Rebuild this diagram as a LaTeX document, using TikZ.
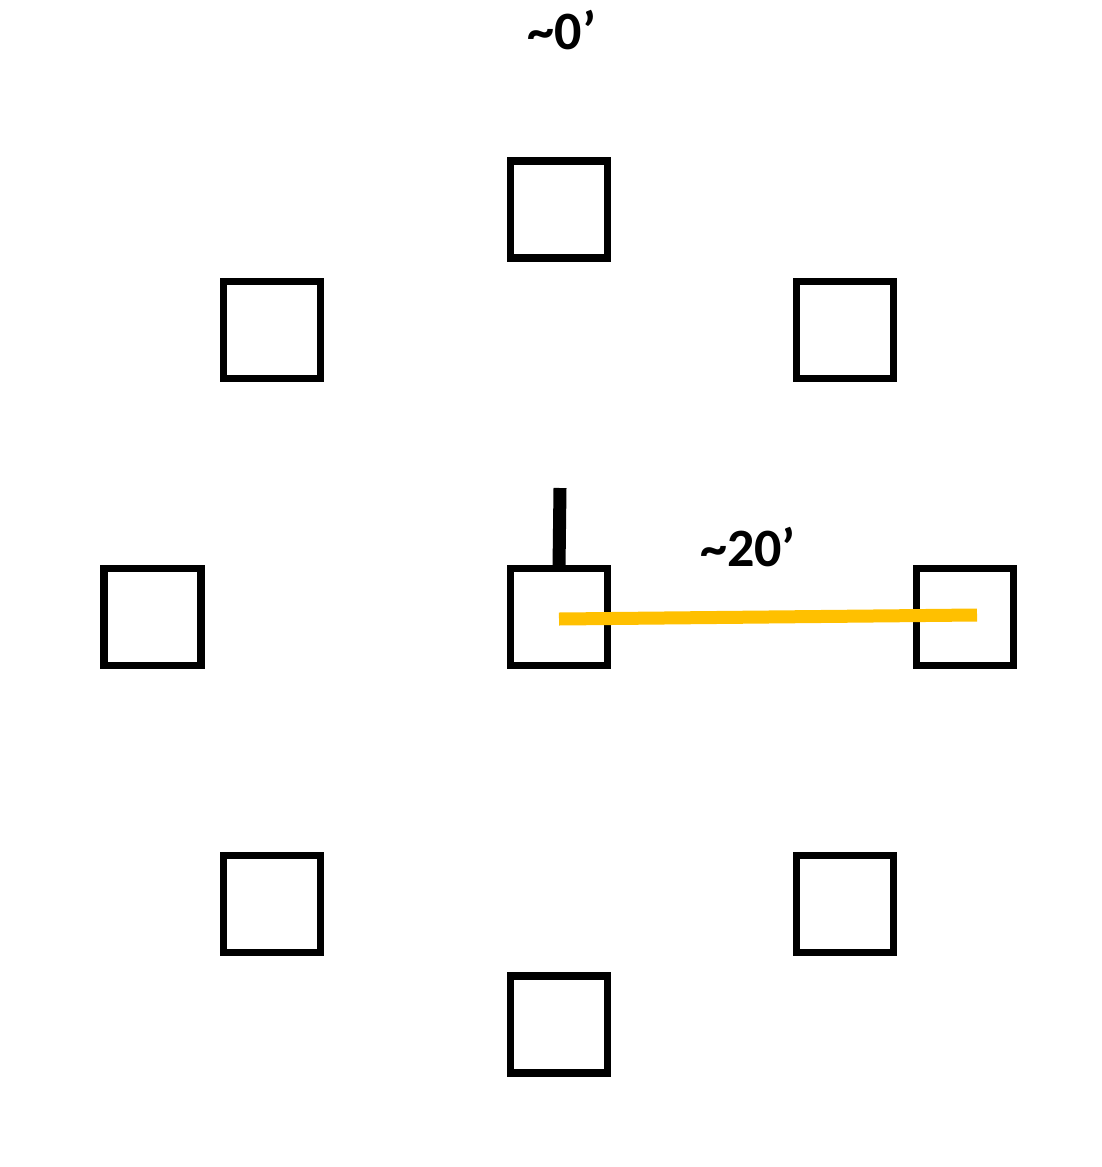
\documentclass[tikz,border=0pt]{standalone}
\usepackage{fontspec}
\setmainfont{Carlito}
\usetikzlibrary{positioning}
\definecolor{measureYellow}{HTML}{FFC000}

\begin{document}
\begin{tikzpicture}[x=1pt, y=-1pt,
    pier/.style={draw=black, line width=7.5pt, rectangle, fill=white, minimum size=97pt, inner sep=0pt},
    dimLabel/.style={font=\fontsize{54}{64}\selectfont\bfseries, inner sep=0pt, text=black},
    post/.style={draw=black, line width=13pt},
    span/.style={draw=measureYellow, line width=13pt},
]
\useasboundingbox (0,0) rectangle (1102,1167);
% ring of piers
\node[pier] (pTop)    at (559, 209.5) {};
\node[pier] (pUpLeft) at (272, 330) {};
\node[pier] (pUpRight) at (845, 330) {};
\node[pier] (pLeft)   at (152.5, 617) {};
\node[pier] (pCenter) at (559, 617) {};
\node[pier] (pRight)  at (965, 617) {};
\node[pier] (pLowLeft) at (272, 904) {};
\node[pier] (pLowRight) at (845, 904) {};
\node[pier] (pBottom) at (559, 1024.5) {};
% labels
\node[dimLabel] (lblZero) at (562, 30) {\textasciitilde 0’};
\node[dimLabel] (lblSpan) at (748, 547) {\textasciitilde 20’};
% post on centre pier and measured span
\coordinate (postTop) at (560, 488);
\draw[post] ([yshift=-3.5pt]pCenter.north) -- (postTop);
\draw[span] ([yshift=-2pt]pCenter.center) -- ([xshift=12pt, yshift=2pt]pRight.center);
\end{tikzpicture}
\end{document}
